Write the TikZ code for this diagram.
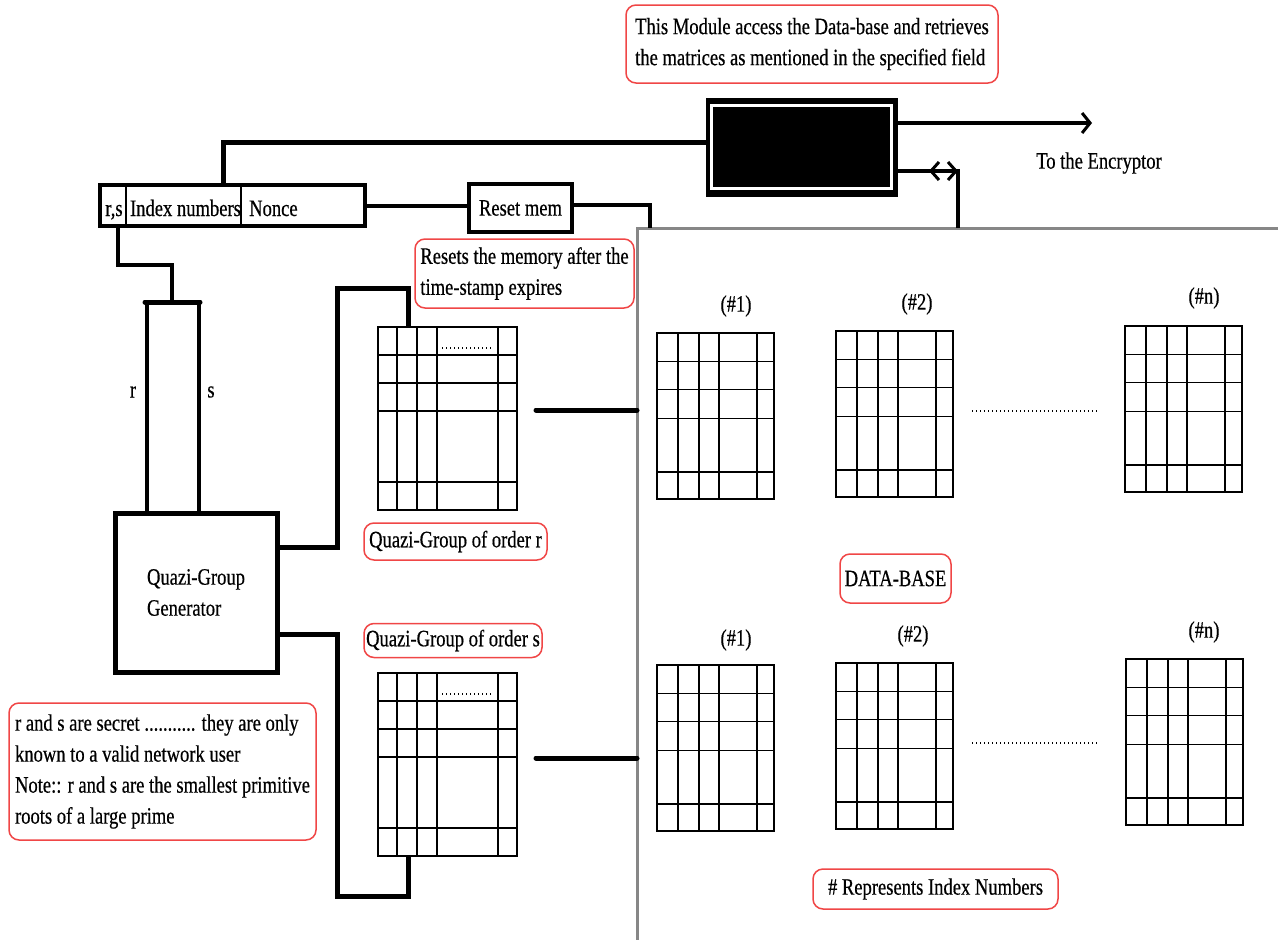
\documentclass[tikz,border=0pt]{standalone}
\usepackage{fontspec}
\setmainfont{Liberation Serif}[FakeStretch=0.79,FakeBold=0.5]
\usetikzlibrary{arrows.meta,calc}
\definecolor{notered}{RGB}{240,70,70}
\definecolor{dbgray}{RGB}{135,135,135}
\tikzset{
  line5/.style={line width=5pt},
  line4/.style={line width=4pt},
  line3/.style={line width=3.2pt},
  note/.style={draw=notered, line width=1.5pt, rounded corners=10pt, fill=white, inner sep=2pt, align=left},
  gridbox/.style={draw, line width=1.7pt, inner sep=0pt, outer sep=0pt},
  gridline/.style={line width=1.7pt},
  dotline/.style={line width=1.3pt, dash pattern=on 1.2pt off 2.8pt},
  plain/.style={inner sep=0pt},
  dbbox/.style={draw=dbgray, line width=3pt, inner sep=0pt, outer sep=0pt},
  bigbarb/.tip={Straight Barb[length=8pt,width=20pt,line width=3pt]},
  smallbarb/.tip={Straight Barb[length=8pt,width=18pt]}
}
\newcommand\dbgrid[3]{%
  \node[gridbox, anchor=north west, minimum width=117pt, minimum height=166pt] (#1) at (#2,#3) {};
  \foreach \gx in {21,42,62,100}{\draw[gridline] ($(#1.north west)+(\gx,0)$) -- ($(#1.south west)+(\gx,0)$);}
  \foreach \gy in {28.5,56.5,85.5,139}{\draw[gridline] ($(#1.north west)+(0,\gy)$) -- ($(#1.north east)+(0,\gy)$);}
}
\newcommand\qgrid[3]{%
  \node[gridbox, anchor=north west, minimum width=139pt, minimum height=183pt] (#1) at (#2,#3) {};
  \foreach \gx in {19,39,59,120}{\draw[gridline] ($(#1.north west)+(\gx,0)$) -- ($(#1.south west)+(\gx,0)$);}
  \foreach \gy in {28,56,84,155}{\draw[gridline] ($(#1.north west)+(0,\gy)$) -- ($(#1.north east)+(0,\gy)$);}
  \draw[dotline] ($(#1.north west)+(64,21)$) -- ($(#1.north west)+(113,21)$);
}
\begin{document}
\begin{tikzpicture}[x=1pt,y=-1pt,font=\fontsize{23.5}{31}\selectfont]
\useasboundingbox (0,0) rectangle (1278,940);
% database
\node[dbbox, anchor=north west, minimum width=700pt, minimum height=760pt] (db) at (637,228) {};
\dbgrid{da1}{657}{333}
\dbgrid{da2}{836}{331}
\dbgrid{dan}{1125}{326}
\dbgrid{db1}{657}{665}
\dbgrid{db2}{836}{663}
\dbgrid{dbn}{1126}{659}
\node[plain] (la1) at (736,306) {(\#1)};
\node[plain] (la2) at (917,304) {(\#2)};
\node[plain] (lan) at (1204,298) {(\#n)};
\node[plain] (lb1) at (736,640) {(\#1)};
\node[plain] (lb2) at (913,636) {(\#2)};
\node[plain] (lbn) at (1204,632) {(\#n)};
\draw[dotline] (972,411) -- (1097,411);
\draw[dotline] (972,743) -- (1097,743);
\node[note, minimum width=111pt, minimum height=49pt] (dbnote) at (895.5,578.5) {DATA-BASE};
\node[note, minimum width=245pt, minimum height=40pt] (idxnote) at (935.5,889) {\# Represents Index Numbers};

% module
\node[note, minimum width=372pt, minimum height=78pt] (modnote) at (812,44) {This Module access the Data-base and retrieves\\the matrices as mentioned in the specified field};
\node[draw, fill=black, line width=1pt, minimum width=191pt, minimum height=98pt] (module) at (801.5,147) {};
\draw[white, line width=2.2pt] ($(module.north west)+(6,8)$) rectangle ($(module.south east)+(-6,-8)$);
\coordinate (enc) at (1092,123);
\draw[line4, -{bigbarb}] (module.east |- enc) -- (enc);
\node[plain] (enclabel) at (1099,163) {To the Encryptor};
\coordinate (dar) at (958,171);
\coordinate (dal) at (929,171);
\draw[line4] (module.east |- dar) -- (dar) -- (dar |- db.north);
\draw[line width=3pt, {smallbarb}-{smallbarb}] (dal) -- (dar);

% index box
\node[draw, line width=4pt, minimum width=265pt, minimum height=41pt, inner sep=0pt] (idx) at (232.5,205.5) {};
\draw[line width=2pt] ($(idx.north west)+(28,0)$) -- ($(idx.south west)+(28,0)$);
\draw[line width=2pt] ($(idx.north west)+(143,0)$) -- ($(idx.south west)+(143,0)$);
\node[plain, anchor=base] (trs) at (114,216) {r,s};
\node[plain, anchor=base] (tin) at (185.5,216) {Index numbers};
\node[plain, anchor=base west] (tno) at (249,216) {Nonce};
\coordinate (mi) at (223,142);
\draw[line5] (module.west |- mi) -- (mi) -- (mi |- idx.north);

% reset
\node[draw, line width=4.5pt, minimum width=103pt, minimum height=48pt, inner sep=0pt] (reset) at (520.5,208) {Reset mem};
\draw[line4] (idx.east) -- (idx.east -| reset.west);
\coordinate (rmc) at (650,205);
\draw[line3] (reset.east |- rmc) -- (rmc) -- (rmc |- db.north);
\node[note, minimum width=219pt, minimum height=69pt] (resetnote) at (524.5,273.5) {Resets the memory after the\\time-stamp expires};

% generator
\node[draw, line width=5pt, minimum width=162pt, minimum height=159pt, align=left] (gen) at (196,592.5) {Quazi-Group\\Generator};
\coordinate (k1) at (118,265);
\coordinate (k2) at (172,265);
\coordinate (bar) at (172,302);
\draw[line4] (k1 |- idx.south) -- (k1) -- (k2) -- (bar);
\coordinate (barL) at (145,302);
\coordinate (barR) at (200,302);
\draw[line5, line cap=round] (barL) -- (barR);
\coordinate (rl) at (147,302);
\coordinate (sl) at (199,302);
\draw[line4] (rl) -- (rl |- gen.north);
\draw[line4] (sl) -- (sl |- gen.north);
\node[plain] (rlab) at (133,392) {r};
\node[plain] (slab) at (211,392) {s};

% quasigroup grids
\qgrid{qr}{378}{327}
\qgrid{qs}{378}{673}
\coordinate (qa) at (337,288);
\coordinate (qb) at (337,896);
\draw[line5] ($(gen.east)+(0,-45)$) -| (qa) -| ($(qr.north west)+(30,0)$);
\draw[line5] ($(gen.east)+(0,42)$) -| (qb) -| ($(qs.south west)+(30,0)$);
\coordinate (qro) at (536,410);
\coordinate (qso) at (536,758);
\draw[line5, line cap=round] (qro) -- (qro -| db.west);
\draw[line5, line cap=round] (qso) -- (qso -| db.west);
\node[note, minimum width=183pt, minimum height=37pt] (qrnote) at (455.5,541.5) {Quazi-Group of order r};
\node[note, minimum width=178pt, minimum height=34pt] (qsnote) at (453,640.5) {Quazi-Group of order s};

% secret note
\node[note, minimum width=307pt, minimum height=137pt] (secret) at (162.5,771.5) {r and s are secret ........... they are only\\known to a valid network user\\Note:: r and s are the smallest primitive\\roots of a large prime};
\end{tikzpicture}
\end{document}
